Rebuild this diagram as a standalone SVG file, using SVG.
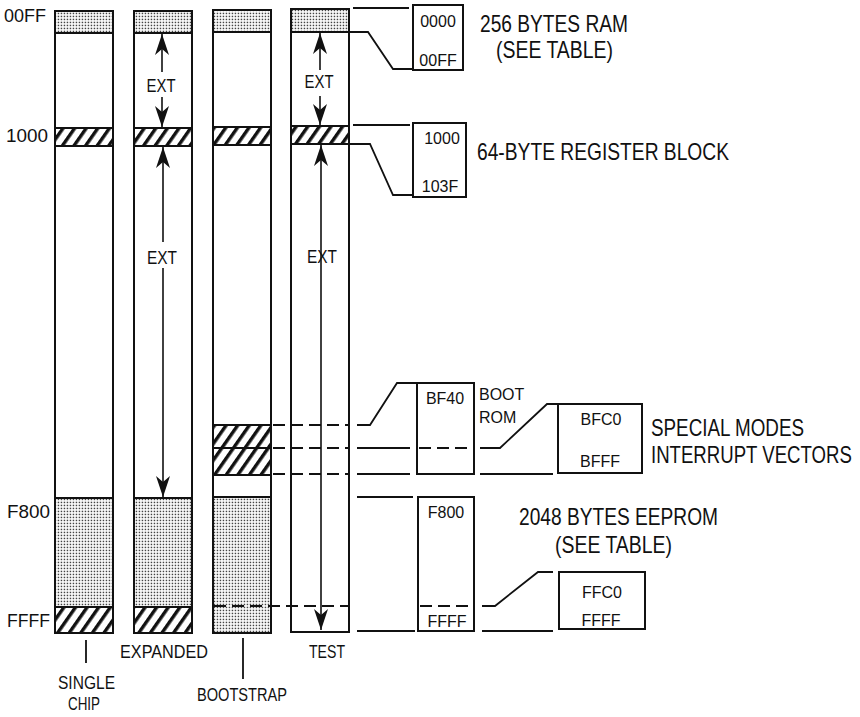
<svg xmlns="http://www.w3.org/2000/svg" width="860" height="717" viewBox="0 0 860 717">
<style>
text{font-family:"Liberation Sans",Arial,sans-serif;fill:#111}
.col{fill:#fff;stroke:#111;stroke-width:2}
.dot{fill:url(#dots);stroke:#111;stroke-width:2}
.hat{fill:url(#hatch);stroke:#111;stroke-width:2}
.box{fill:#fff;stroke:#111;stroke-width:2}
.ln{fill:none;stroke:#111;stroke-width:1.8}
.dash{fill:none;stroke:#111;stroke-width:1.8;stroke-dasharray:12 6}
.arr{fill:none;stroke:#111;stroke-width:1.6}
.big{font-size:24px}
.sm{font-size:16px}
.mid{text-anchor:middle}
.lab{font-size:18px}
.adr{font-size:19px;text-anchor:end}
</style>
<defs>
<pattern id="dots" patternUnits="userSpaceOnUse" width="3" height="3">
<rect width="3" height="3" fill="#fff"/>
<rect x="0.7" y="0.7" width="1.5" height="1.5" fill="#444"/>
</pattern>
<pattern id="hatch" patternUnits="userSpaceOnUse" width="9.5" height="10" patternTransform="rotate(35)">
<rect width="9.5" height="10" fill="#fff"/>
<rect x="0" y="0" width="3.4" height="10" fill="#111"/>
</pattern>
<marker id="ah" viewBox="-22 -8 24 16" refX="0" refY="0" markerWidth="24" markerHeight="16" markerUnits="userSpaceOnUse" orient="auto-start-reverse">
<path d="M0,0 L-21,-7 L-15,0 L-21,7 Z" fill="#111"/>
</marker>
</defs>

<g id="col-single-chip">
<rect class="col" x="55" y="11" width="58" height="622"/>
<rect class="dot" x="55" y="11" width="58" height="22"/>
<rect class="hat" x="55" y="128" width="58" height="18"/>
<rect class="dot" x="55" y="498" width="58" height="109"/>
<rect class="hat" x="55" y="607" width="58" height="26"/>
</g>

<g id="col-expanded">
<rect class="col" x="134" y="11" width="58" height="622"/>
<rect class="dot" x="134" y="11" width="58" height="22"/>
<rect class="hat" x="134" y="128" width="58" height="18"/>
<rect class="dot" x="134" y="498" width="58" height="109"/>
<rect class="hat" x="134" y="607" width="58" height="26"/>
<text class="lab" x="161" y="92" text-anchor="middle" textLength="29" lengthAdjust="spacingAndGlyphs">EXT</text>
<text class="lab" x="162" y="264" text-anchor="middle" textLength="30" lengthAdjust="spacingAndGlyphs">EXT</text>
</g>

<g id="col-bootstrap">
<rect class="col" x="213" y="10" width="58" height="623"/>
<rect class="dot" x="213" y="10" width="58" height="22"/>
<rect class="hat" x="213" y="127" width="58" height="18"/>
<rect class="hat" x="213" y="425" width="58" height="50"/>
<line class="ln" x1="213" y1="448" x2="271" y2="448"/>
<rect class="dot" x="213" y="497" width="58" height="136"/>
</g>

<g id="col-test">
<rect class="col" x="291" y="9" width="58" height="623"/>
<rect class="dot" x="291" y="9" width="58" height="23"/>
<rect class="hat" x="291" y="126" width="58" height="18"/>
<text class="lab" x="319" y="88" text-anchor="middle" textLength="29" lengthAdjust="spacingAndGlyphs">EXT</text>
<text class="lab" x="322" y="263" text-anchor="middle" textLength="30" lengthAdjust="spacingAndGlyphs">EXT</text>
</g>

<g id="box-ram">
<rect class="box" x="413" y="5" width="50" height="65"/>
<text class="sm mid" x="438" y="27">0000</text>
<text class="sm mid" x="438" y="66">00FF</text>
</g>

<g id="box-reg">
<rect class="box" x="413" y="123" width="53" height="74"/>
<text class="sm mid" x="442" y="144">1000</text>
<text class="sm mid" x="440" y="192">103F</text>
</g>

<g id="box-bootrom">
<rect class="box" x="417" y="383" width="57" height="91"/>
<text class="sm mid" x="445" y="404">BF40</text>
<text class="sm" x="479" y="400">BOOT</text>
<text class="sm" x="479" y="423">ROM</text>
</g>

<g id="box-vectors">
<rect class="box" x="558" y="404" width="84" height="69"/>
<text class="sm mid" x="601" y="425">BFC0</text>
<text class="sm mid" x="600" y="467">BFFF</text>
</g>

<g id="box-eeprom">
<rect class="box" x="418" y="497" width="56" height="134"/>
<text class="sm mid" x="446" y="518">F800</text>
<text class="sm mid" x="447" y="627">FFFF</text>
</g>

<g id="box-eeprom-top">
<rect class="box" x="559" y="572" width="86" height="57"/>
<text class="sm mid" x="602" y="598">FFC0</text>
<text class="sm mid" x="601" y="626">FFFF</text>
</g>

<g id="connectors">
<line class="arr" x1="162" y1="34" x2="162" y2="72" marker-start="url(#ah)"/>
<line class="arr" x1="162" y1="97" x2="162" y2="127" marker-end="url(#ah)"/>
<line class="arr" x1="163" y1="147" x2="163" y2="242" marker-start="url(#ah)"/>
<line class="arr" x1="163" y1="268" x2="163" y2="497" marker-end="url(#ah)"/>
<line class="arr" x1="320" y1="33" x2="320" y2="70" marker-start="url(#ah)"/>
<line class="arr" x1="320" y1="96" x2="320" y2="125" marker-end="url(#ah)"/>
<line class="arr" x1="321" y1="145" x2="321" y2="630" marker-start="url(#ah)" marker-end="url(#ah)"/>

<polyline class="ln" points="353,8 409,8"/>
<polyline class="ln" points="349,32 368,32 393,69 412,69"/>
<polyline class="ln" points="353,125 410,125"/>
<polyline class="ln" points="349,144 370,144 393,195 412,195"/>

<line class="dash" x1="273" y1="425" x2="350" y2="425"/>
<polyline class="ln" points="357,425 370,425 397,383 416,383"/>
<line class="dash" x1="273" y1="448" x2="350" y2="448"/>
<line class="ln" x1="357" y1="448" x2="410" y2="448"/>
<line class="dash" x1="419" y1="448" x2="473" y2="448"/>
<polyline class="ln" points="480,448 500,448 547,404 557,404"/>
<line class="dash" x1="273" y1="474" x2="350" y2="474"/>
<line class="ln" x1="357" y1="474" x2="410" y2="474"/>
<line class="ln" x1="480" y1="474" x2="553" y2="474"/>

<line class="ln" x1="357" y1="497" x2="413" y2="497"/>
<line class="dash" x1="214" y1="606" x2="349" y2="606"/>
<line class="dash" x1="420" y1="606" x2="473" y2="606"/>
<polyline class="ln" points="482,606 495,606 538,572 553,572"/>
<line class="ln" x1="357" y1="631" x2="415" y2="631"/>
<line class="ln" x1="482" y1="631" x2="553" y2="631"/>

<line class="ln" x1="86" y1="640" x2="86" y2="663"/>
<line class="ln" x1="243" y1="638" x2="243" y2="679"/>
</g>

<g id="addr-labels">
<text class="adr" x="46" y="22" textLength="42" lengthAdjust="spacingAndGlyphs">00FF</text>
<text class="adr" x="48" y="142" textLength="42" lengthAdjust="spacingAndGlyphs">1000</text>
<text class="adr" x="50" y="518" textLength="43" lengthAdjust="spacingAndGlyphs">F800</text>
<text class="adr" x="50" y="627" textLength="43" lengthAdjust="spacingAndGlyphs">FFFF</text>
</g>

<g id="desc-labels">
<text class="big" x="480" y="32" textLength="148" lengthAdjust="spacingAndGlyphs">256 BYTES RAM</text>
<text class="big" x="496" y="58" textLength="117" lengthAdjust="spacingAndGlyphs">(SEE TABLE)</text>
<text class="big" x="477" y="160" textLength="252" lengthAdjust="spacingAndGlyphs">64-BYTE REGISTER BLOCK</text>
<text class="big" x="651" y="436" textLength="153" lengthAdjust="spacingAndGlyphs">SPECIAL MODES</text>
<text class="big" transform="translate(651,463) scale(0.775,1)" x="0" y="0">INTERRUPT VECTORS</text>
<text class="big" x="519" y="525" textLength="199" lengthAdjust="spacingAndGlyphs">2048 BYTES EEPROM</text>
<text class="big" x="555" y="553" textLength="117" lengthAdjust="spacingAndGlyphs">(SEE TABLE)</text>
</g>

<g id="mode-labels">
<text class="lab" x="86.5" y="689" text-anchor="middle" textLength="57" lengthAdjust="spacingAndGlyphs">SINGLE</text>
<text class="lab" x="84" y="710" text-anchor="middle" textLength="32" lengthAdjust="spacingAndGlyphs">CHIP</text>
<text class="lab" x="164" y="658" text-anchor="middle" textLength="88" lengthAdjust="spacingAndGlyphs">EXPANDED</text>
<text class="lab" x="242" y="701" text-anchor="middle" textLength="90" lengthAdjust="spacingAndGlyphs">BOOTSTRAP</text>
<text class="lab" x="327" y="658" text-anchor="middle" textLength="36" lengthAdjust="spacingAndGlyphs">TEST</text>
</g>
</svg>
